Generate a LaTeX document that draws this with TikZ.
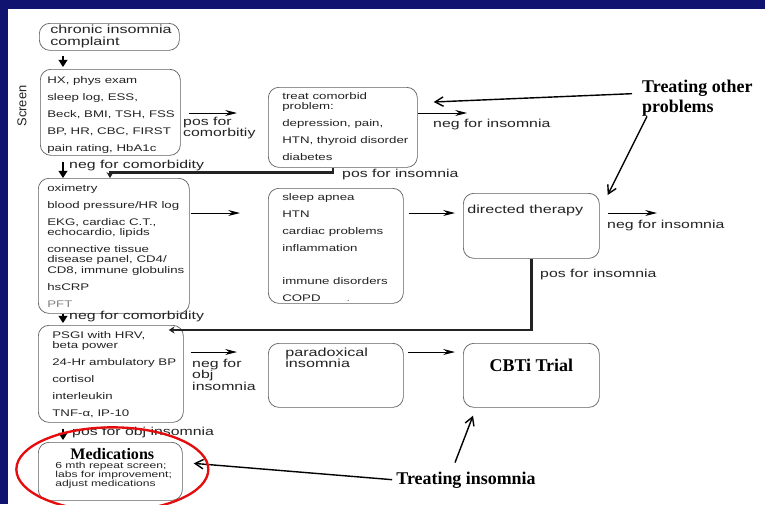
\documentclass[tikz,border=0pt]{standalone}
\usepackage{fontspec}
\usetikzlibrary{arrows.meta, positioning, calc}
\newfontfamily\flowfont[FakeStretch=1.38]{Liberation Sans}
\newfontfamily\labelfont{Liberation Sans}
\newfontfamily\calloutfont{Liberation Serif}
\definecolor{slideblue}{RGB}{16,20,112}
\definecolor{boxgray}{RGB}{95,95,95}
\definecolor{textgray}{RGB}{35,35,35}
\definecolor{ringred}{RGB}{228,12,12}
\newdimen\px \px=0.03cm
% box body: width, height, left pad, top pad, lines
\newcommand{\boxlines}[5]{%
  \parbox[c][#2\px][t]{#1\px}{\raggedright\leftskip=#3\px\relax\vspace*{#4\px}#5}}
\newcommand{\itemgap}{\\[6.5\px]}

\begin{document}
\begin{tikzpicture}[x=0.03cm, y=-0.03cm,
  flowbox/.style={draw=boxgray, line width=0.6pt, rounded corners=9pt, inner sep=0pt,
                  anchor=north west, text=textgray, font=\flowfont\fontsize{8.2}{8.9}\selectfont},
  bigbox/.style={flowbox, font=\flowfont\fontsize{10}{10.6}\selectfont},
  edgelabel/.style={inner sep=0pt, anchor=west, align=left, text=textgray,
                    font=\flowfont\fontsize{9.8}{9.6}\selectfont},
  calloutlabel/.style={inner sep=0pt, align=left,
                       font=\calloutfont\bfseries\fontsize{15.3}{17}\selectfont},
  flowarrow/.style={-{Stealth[length=10pt,width=5pt]}, line width=0.8pt},
  downarrow/.style={-{Triangle[length=6pt,width=7.5pt]}, line width=1pt},
  returnline/.style={-{Stealth[length=5pt,width=6pt]}, line width=2.2pt, draw=textgray},
  pointerarrow/.style={-{Straight Barb[length=7pt,width=8pt]}, line width=1.2pt},
  redring/.style={draw=ringred, line width=2pt}
]
\useasboundingbox (0,0) rectangle (765,504);
\fill[slideblue] (0,0) rectangle (765,504);
\fill[white] (8,9) rectangle (765,504);

% rows and columns for the connectors
\coordinate (rowA) at (0,113);
\coordinate (rowB) at (0,213);
\coordinate (rowC) at (0,352);
\coordinate (colA) at (63,0);
\coordinate (colB) at (110,0);
\coordinate (negtipA) at (467,113);
\coordinate (negtipB) at (657,213);

% left column
\node[bigbox] (complaint) at (39,23)
  {\boxlines{140}{27}{11}{1.5}{chronic insomnia\\complaint}};
\node[flowbox] (screen) at (40,69)
  {\boxlines{140}{86}{7}{7}{HX, phys exam\itemgap sleep log, ESS,\itemgap
   Beck, BMI, TSH, FSS\itemgap BP, HR, CBC, FIRST\itemgap pain rating, HbA1c}};
\node[rotate=90, text=textgray, font=\labelfont\fontsize{11}{12}\selectfont]
  (screentag) at (22,106) {Screen};
\node[flowbox] (labs) at (38,178)
  {\boxlines{151}{135}{9}{6}{oximetry\itemgap blood pressure/HR log\itemgap
   EKG, cardiac C.T.,\\echocardio, lipids\itemgap connective tissue\\disease panel, CD4/\\
   CD8, immune globulins\itemgap hsCRP\itemgap {\color{gray}PFT}}};
\node[flowbox] (psg) at (38,325)
  {\boxlines{145}{97}{14}{6}{PSGI with HRV,\\beta power\itemgap 24-Hr ambulatory BP\itemgap
   cortisol\itemgap interleukin\itemgap TNF-α, IP-10}};
\node[flowbox, font=\flowfont\fontsize{7.5}{7.7}\selectfont] (meds) at (38,442)
  {\boxlines{144}{58}{17}{6}{\hspace*{15\px}{\calloutfont\bfseries\fontsize{13.7}{14}\selectfont
   \color{black}Medications}\par 6 mth repeat screen;\\labs for improvement;\\
   adjust medications}};

% middle and right
\node[flowbox] (comorbid) at (268,87)
  {\boxlines{149}{80}{14}{5}{treat comorbid\\problem:\itemgap depression, pain,\itemgap
   HTN, thyroid disorder\itemgap diabetes}};
\node[flowbox] (cond) at (268,188)
  {\boxlines{135}{115}{14}{5}{sleep apnea\itemgap HTN\itemgap cardiac problems\itemgap
   inflammation\itemgap\mbox{}\itemgap immune disorders\itemgap COPD\hspace{26\px}{\color{gray}.}}};
\node[bigbox] (therapy) at (463,193) {\boxlines{136}{65}{4}{12}{directed therapy}};
\node[bigbox, font=\flowfont\fontsize{10}{9.4}\selectfont] (parad) at (268,343)
  {\boxlines{135}{64}{17}{5}{paradoxical\\insomnia}};
\node[flowbox] (cbti) at (463,343)
  {\boxlines{136}{64}{0}{16}{\centering\color{black}\calloutfont\bfseries
   \fontsize{15.3}{17}\selectfont CBTi Trial}};

% edge labels
\node[edgelabel, anchor=north west] (poscom) at (183,117) {pos for\\comorbitiy};
\node[edgelabel] (negins1) at (433,125) {neg for insomnia};
\node[edgelabel] (negcom1) at (69,166) {neg for comorbidity};
\node[edgelabel] (posins1) at (342,175) {pos for insomnia};
\node[edgelabel] (negins2) at (607,226) {neg for insomnia};
\node[edgelabel] (posins2) at (540,275) {pos for insomnia};
\node[edgelabel] (negcom2) at (69,317) {neg for comorbidity};
\node[edgelabel, anchor=north west] (negobj) at (192,359) {neg for\\obj\\insomnia};
\node[edgelabel] (posobj) at (72,433) {pos for obj insomnia};

% flow
\draw[downarrow, shorten <=5\px, shorten >=2\px] (complaint.south -| colA) -- (screen.north -| colA);
\draw[downarrow, shorten <=6\px] (screen.south -| colA) -- (labs.north -| colA);
\draw[downarrow, shorten >=2\px] (labs.south -| colA) -- (psg.north -| colA);
\draw[downarrow, shorten <=6\px, shorten >=2\px] (psg.south -| colA) -- (meds.north -| colA);

\draw[flowarrow, shorten <=8\px, shorten >=31\px] (screen.east |- rowA) -- (comorbid.west |- rowA);
\draw[flowarrow] (comorbid.east |- rowA) -- (negtipA);
\draw[flowarrow, shorten <=1\px, shorten >=28\px] (labs.east |- rowB) -- (cond.west |- rowB);
\draw[flowarrow, shorten <=5\px, shorten >=8\px] (cond.east |- rowB) -- (therapy.west |- rowB);
\draw[flowarrow, shorten <=8\px] (therapy.east |- rowB) -- (negtipB);
\draw[flowarrow, shorten <=7\px, shorten >=31\px] (psg.east |- rowC) -- (parad.west |- rowC);
\draw[flowarrow, shorten <=4\px, shorten >=8\px] (parad.east |- rowC) -- (cbti.west |- rowC);

\draw[returnline] ($(comorbid.south)+(-10,0)$) -- ++(0,5) -| (labs.north -| colB);
\draw[returnline] (therapy.south) |- ($(psg.north east)+(-15,5)$);

% slide call-outs
\node[calloutlabel, anchor=west] (tother) at (642,98) {Treating other\\problems};
\node[calloutlabel] (tins) at (466,480) {Treating insomnia};

\draw[pointerarrow] ($(tother.north west)+(-10,14)$) -- ($(comorbid.north east)+(16,15)$);
\draw[pointerarrow] ($(tother.south west)+(5,0)$) -- ($(therapy.north east)+(8,2)$);
\draw[pointerarrow, shorten <=4\px] (tins.west) -- ($(meds.east)+(11,-8)$);
\draw[pointerarrow] ($(tins.north)+(-11,-9)$) -- ($(cbti.south west)+(10,8)$);

\draw[redring] ($(meds.center)+(2,-2)$) ellipse [x radius=96, y radius=42];
\end{tikzpicture}
\end{document}
